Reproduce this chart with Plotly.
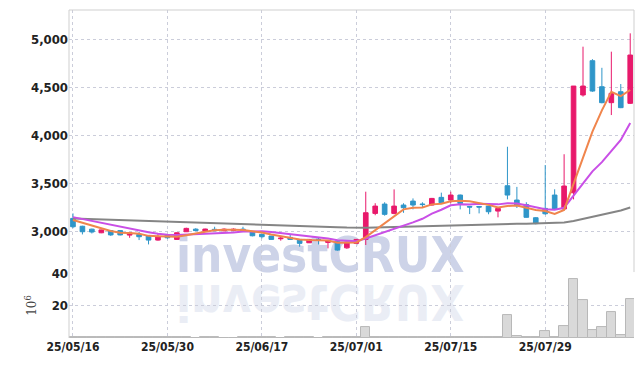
import plotly.graph_objects as go
from plotly.subplots import make_subplots

dates = ["25/05/16", "25/05/19", "25/05/20", "25/05/21", "25/05/22", "25/05/23",
         "25/05/26", "25/05/27", "25/05/28", "25/05/29", "25/05/30", "25/06/02",
         "25/06/04", "25/06/05", "25/06/09", "25/06/10", "25/06/11", "25/06/12",
         "25/06/13", "25/06/16", "25/06/17", "25/06/18", "25/06/19", "25/06/20",
         "25/06/23", "25/06/24", "25/06/25", "25/06/26", "25/06/27", "25/06/30",
         "25/07/01", "25/07/02", "25/07/03", "25/07/04", "25/07/07", "25/07/08",
         "25/07/09", "25/07/10", "25/07/11", "25/07/14", "25/07/15", "25/07/16",
         "25/07/17", "25/07/18", "25/07/21", "25/07/22", "25/07/23", "25/07/24",
         "25/07/25", "25/07/28", "25/07/29", "25/07/30", "25/07/31", "25/08/01",
         "25/08/04", "25/08/05", "25/08/06", "25/08/07", "25/08/08", "25/08/11"]

open_ = [3132, 3050, 3020, 2982, 3005, 3005, 2958, 2966, 2951, 2906,
         2960, 2913, 2993, 3020, 3000, 3018, 3002, 3005, 3020, 2993,
         2966, 2948, 2920, 2934, 2913, 2878, 2915, 2882, 2889, 2825,
         2872, 2913, 3184, 3281, 3184, 3271, 3312, 3282, 3271, 3351,
         3323, 3375, 3256, 3256, 3260, 3208, 3472, 3323, 3276, 3139,
         3236, 3375, 3230, 3399, 4417, 4774, 4503, 4337, 4451, 4330]
high = [3184, 3055, 3025, 3015, 3010, 3008, 2985, 2990, 2955, 2979,
        2965, 2985, 3035, 3030, 3025, 3045, 3028, 3028, 3045, 2995,
        2970, 2950, 2950, 2969, 2915, 2918, 2930, 2900, 2895, 2890,
        2915, 3410, 3290, 3300, 3434, 3290, 3340, 3300, 3345, 3400,
        3410, 3380, 3258, 3258, 3262, 3240, 3878, 3460, 3300, 3145,
        3688, 3435, 3800, 4510, 4920, 4790, 4700, 4868, 4531, 5059]
low = [3030, 2965, 2975, 2978, 2950, 2955, 2930, 2906, 2861, 2900,
       2920, 2910, 2990, 3000, 2995, 3000, 2998, 3000, 2990, 2945,
       2924, 2910, 2900, 2910, 2837, 2875, 2861, 2820, 2795, 2815,
       2868, 2855, 3165, 3160, 3175, 3190, 3226, 3250, 3265, 3290,
       3290, 3226, 3177, 3184, 3175, 3143, 3330, 3240, 3140, 3070,
       3170, 3220, 3225, 3330, 4400, 4450, 4330, 4208, 4280, 4323]
close = [3045, 2993, 2990, 3012, 2960, 2960, 2982, 2941, 2906, 2941,
         2930, 2982, 3028, 3005, 3021, 3003, 3020, 3020, 2995, 2951,
         2941, 2913, 2926, 2913, 2872, 2913, 2912, 2896, 2802, 2885,
         2913, 3191, 3260, 3174, 3260, 3243, 3271, 3276, 3340, 3295,
         3375, 3288, 3250, 3250, 3201, 3236, 3375, 3264, 3143, 3078,
         3180, 3230, 3469, 4510, 4510, 4458, 4337, 4434, 4285, 4833]

ma5 = [3115, 3085, 3055, 3030, 3000, 2983, 2981, 2971, 2950, 2946,
       2940, 2940, 2957, 2977, 2993, 3008, 3015, 3014, 3012, 2998,
       2985, 2964, 2945, 2929, 2913, 2907, 2907, 2901, 2879, 2882,
       2882, 2937, 3010, 3085, 3160, 3226, 3242, 3245, 3278, 3285,
       3311, 3315, 3310, 3292, 3273, 3245, 3262, 3265, 3244, 3219,
       3208, 3179, 3220, 3493, 3780, 4035, 4257, 4450, 4405, 4469]
ma10 = [3145, 3125, 3105, 3085, 3065, 3045, 3025, 3005, 2988, 2973,
        2962, 2960, 2964, 2964, 2970, 2974, 2978, 2986, 2995, 2996,
        2997, 2990, 2980, 2970, 2955, 2946, 2936, 2923, 2904, 2897,
        2895, 2922, 2956, 2982, 3021, 3054, 3090, 3128, 3181, 3222,
        3269, 3278, 3277, 3285, 3279, 3278, 3289, 3287, 3268, 3246,
        3227, 3221, 3243, 3369, 3500, 3622, 3718, 3835, 3949, 4125]
ma60 = [3132, 3129, 3126, 3123, 3120, 3117, 3114, 3111, 3108, 3105,
        3102, 3099, 3096, 3093, 3090, 3087, 3084, 3081, 3078, 3075,
        3072, 3068, 3064, 3060, 3056, 3052, 3048, 3044, 3040, 3036,
        3032, 3034, 3037, 3040, 3043, 3046, 3049, 3052, 3055, 3058,
        3061, 3063, 3065, 3067, 3069, 3071, 3073, 3075, 3077, 3079,
        3081, 3084, 3089, 3104, 3125, 3146, 3167, 3188, 3214, 3245]

volume = [0.6, 0.4, 0.3, 0.3, 0.4, 0.3, 0.3, 0.4, 0.5, 0.3,
          0.3, 0.3, 0.4, 0.2, 0.3, 0.3, 0.2, 0.2, 0.3, 0.3,
          0.3, 0.3, 0.2, 0.3, 0.4, 0.3, 0.2, 0.3, 0.5, 0.3,
          0.3, 7.0, 0.8, 0.5, 0.8, 0.4, 0.5, 0.3, 0.4, 0.4,
          0.5, 0.4, 0.3, 0.3, 0.3, 0.3, 14.2, 1.4, 0.8, 0.4,
          4.3, 0.8, 7.4, 36.5, 23.5, 5.1, 7.0, 15.9, 2.0, 24.1]

price_ticks = [3000, 3500, 4000, 4500, 5000]
vol_ticks = [20, 40]
date_ticks = [dates[i] for i in range(0, len(dates), 10)]

UP = "#e8196b"
DOWN = "#2f96c9"
GRID = "#cbcdda"
NARROW = "Liberation Sans Narrow, DejaVu Sans Condensed, Liberation Sans, sans-serif"
YFONT = dict(family=NARROW, size=13, color="#222222", weight="bold")
XFONT = dict(family=NARROW, size=12, color="#222222", weight="bold")

fig = make_subplots(rows=2, cols=1, shared_xaxes=True, vertical_spacing=0.003)

fig.add_trace(go.Candlestick(
    x=dates, open=open_, high=high, low=low, close=close,
    increasing=dict(line=dict(color=UP, width=1), fillcolor=UP),
    decreasing=dict(line=dict(color=DOWN, width=1), fillcolor=DOWN),
    whiskerwidth=0, showlegend=False, hoverinfo="skip"), row=1, col=1)

fig.add_trace(go.Scatter(x=dates, y=ma60, mode="lines",
                         line=dict(color="#858585", width=2), showlegend=False), row=1, col=1)
fig.add_trace(go.Scatter(x=dates, y=ma10, mode="lines",
                         line=dict(color="#c94fe6", width=2), showlegend=False), row=1, col=1)
fig.add_trace(go.Scatter(x=dates, y=ma5, mode="lines",
                         line=dict(color="#f0854c", width=2), showlegend=False), row=1, col=1)

fig.add_trace(go.Bar(x=dates, y=volume, marker=dict(color="#d9d9d9",
                     line=dict(color="#b8b8b8", width=1)), showlegend=False), row=2, col=1)

xcommon = dict(type="category", range=[-0.42, 59.4], tickvals=date_ticks,
               showgrid=True, gridcolor=GRID, griddash="dot", gridwidth=1,
               zeroline=False, ticks="", showline=False, automargin=False)
fig.update_xaxes(**xcommon)
fig.update_layout(
    xaxis=dict(showticklabels=False, rangeslider=dict(visible=False)),
    xaxis2=dict(showticklabels=True, tickfont=XFONT, ticktext=date_ticks),
    yaxis=dict(domain=[0.201, 1.0], range=[2573, 5302], tickvals=price_ticks,
               tickformat=",d", showgrid=True, gridcolor=GRID, griddash="dot",
               zeroline=False, ticks="", tickfont=YFONT, automargin=False),
    yaxis2=dict(domain=[0.0, 0.198], range=[0, 40], tickvals=vol_ticks,
                showgrid=True, gridcolor=GRID, griddash="dot", zeroline=False,
                ticks="", tickfont=YFONT, automargin=False,
                title=dict(text="10<sup>6</sup>", standoff=12,
                           font=dict(family="DejaVu Serif", size=12, color="#444444"))),
    template="none",
    width=643, height=366,
    margin=dict(l=69, r=9, t=10, b=28, autoexpand=False),
    paper_bgcolor="white", plot_bgcolor="rgba(0,0,0,0)",
    bargap=0.0, hovermode=False, showlegend=False,
    shapes=[
        dict(type="rect", xref="paper", yref="paper", x0=0.1446, x1=0.7446, y0=0.21, y1=0.32,
             line=dict(width=0), fillcolor="rgba(0,0,0,0)", layer="below",
             label=dict(text="investCRUX", textposition="middle center",
                        font=dict(family=NARROW, size=49, color="#cdd3e8"))),
        dict(type="rect", xref="paper", yref="paper", x0=0.1446, x1=0.7446, y0=0.068, y1=0.178,
             line=dict(width=0), fillcolor="rgba(0,0,0,0)", layer="below",
             label=dict(text="investCRUX", textposition="middle center",
                        font=dict(family=NARROW, size=49, color="#eaedf5"))),
        dict(type="line", xref="paper", yref="paper", x0=0, x1=0, y0=0, y1=1,
             line=dict(color="#cfcfcf", width=1)),
        dict(type="line", xref="paper", yref="paper", x0=1, x1=1, y0=0.201, y1=1,
             line=dict(color="#cfcfcf", width=1)),
        dict(type="line", xref="paper", yref="paper", x0=0, x1=1, y0=1, y1=1,
             line=dict(color="#cfcfcf", width=1)),
    ],
)

post = """
document.body.style.margin = '0';
document.body.style.padding = '0';
var gd = document.getElementById('{plot_id}');
function styleWatermark(){
  var ts = gd.querySelectorAll('text');
  var found = [];
  for (var i = 0; i < ts.length; i++) { if (ts[i].textContent === 'investCRUX') found.push(ts[i]); }
  for (var j = 0; j < found.length; j++) { found[j].style.fontWeight = 'bold'; }
  if (found.length > 1) {
    var t = found[1];
    t.style.transformBox = 'fill-box';
    t.style.transformOrigin = '50% 50%';
    t.style.transform = 'scaleY(-1)';
  }
}
styleWatermark();
if (gd.on) gd.on('plotly_afterplot', styleWatermark);
"""

fig.write_html("out.html", post_script=post, config={"displayModeBar": False})
